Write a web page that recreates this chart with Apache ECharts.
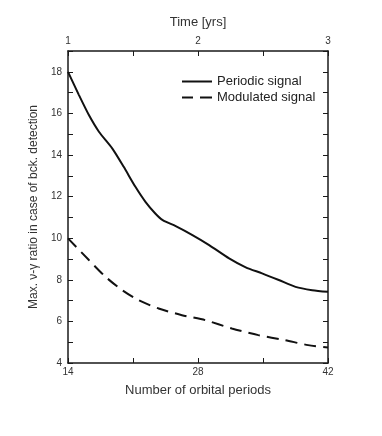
<!DOCTYPE html>
<html>
<head>
<meta charset="utf-8">
<script src="https://cdn.jsdelivr.net/npm/echarts@6/dist/echarts.min.js"></script>
<style>
  html, body { margin: 0; padding: 0; background: #fff; }
  #chart { width: 382px; height: 436px; }
</style>
</head>
<body>
<div id="chart"></div>
<script>
  // Number of orbital periods (bottom axis) vs ratio
  const periodicX = [14, 15.18, 16.25, 17.33, 18.76, 20.0, 21.26, 22.34, 23.4, 24.2, 25.6, 27.4, 29.2, 31.35, 33.14, 34.9, 36.7, 38.5, 40.3, 42];
  const periodicY = [18, 16.88, 15.92, 15.12, 14.32, 13.43, 12.47, 11.75, 11.19, 10.87, 10.58, 10.15, 9.67, 9.03, 8.6, 8.31, 7.99, 7.66, 7.5, 7.42];

  const modulatedX = [14, 16.25, 18.05, 19.84, 21.6, 23.76, 26.27, 28.77, 31.64, 34.5, 37.36, 39.86, 42];
  const modulatedY = [9.99, 8.95, 8.14, 7.5, 7.02, 6.62, 6.3, 6.06, 5.66, 5.34, 5.1, 4.86, 4.74];

  const bottomLabels = [14, 28, 42];
  const topLabels = [1, 2, 3];

  const chart = echarts.init(document.getElementById('chart'));

  const font = 'Liberation Sans';
  const axisColor = '#1a1a1a';

  const tickStyle = { show: true, inside: true, length: 5, lineStyle: { color: axisColor, width: 1 } };
  const lineStyle = { show: true, lineStyle: { color: axisColor, width: 1.5 } };

  const option = {
    animation: false,
    textStyle: { fontFamily: font },
    grid: { left: 68, right: 54, top: 51, bottom: 73 },
    legend: {
      orient: 'vertical',
      left: 177,
      top: 70,
      itemWidth: 30,
      itemHeight: 2,
      itemGap: 3,
      textStyle: { fontFamily: font, fontSize: 13, color: '#222' },
      data: [
        { name: 'Periodic signal', icon: 'path://M0,0L30,0L30,2L0,2Z' },
        { name: 'Modulated signal', icon: 'path://M0,0L11,0L11,2L0,2Z M18,0L30,0L30,2L18,2Z' }
      ]
    },
    xAxis: [
      {
        type: 'value',
        min: 14,
        max: 42,
        interval: 7,
        position: 'bottom',
        name: 'Number of orbital periods',
        nameLocation: 'middle',
        nameGap: 21,
        nameTextStyle: { fontFamily: font, fontSize: 13, color: '#333' },
        axisLine: lineStyle,
        axisTick: tickStyle,
        splitLine: { show: false },
        axisLabel: {
          fontSize: 10,
          color: '#333',
          margin: 4,
          formatter: (v) => (bottomLabels.includes(v) ? String(v) : '')
        }
      },
      {
        type: 'value',
        min: 1,
        max: 3,
        interval: 0.5,
        position: 'top',
        name: 'Time [yrs]',
        nameLocation: 'middle',
        nameGap: 22,
        nameTextStyle: { fontFamily: font, fontSize: 13, color: '#333' },
        axisLine: lineStyle,
        axisTick: tickStyle,
        splitLine: { show: false },
        axisLabel: {
          fontSize: 10,
          color: '#333',
          margin: 5,
          formatter: (v) => (topLabels.includes(v) ? String(v) : '')
        }
      }
    ],
    yAxis: [
      {
        type: 'value',
        min: 4,
        max: 19,
        interval: 1,
        position: 'left',
        name: 'Max. \u03bd-\u03b3 ratio in case of bck. detection',
        nameLocation: 'middle',
        nameGap: 21,
        nameTextStyle: { fontFamily: font, fontSize: 12, color: '#333' },
        axisLine: lineStyle,
        axisTick: tickStyle,
        splitLine: { show: false },
        axisLabel: {
          fontSize: 10,
          color: '#333',
          margin: 6,
          formatter: (v) => (v % 2 === 0 ? String(v) : '')
        }
      },
      {
        type: 'value',
        min: 4,
        max: 19,
        interval: 1,
        position: 'right',
        axisLine: lineStyle,
        axisTick: tickStyle,
        splitLine: { show: false },
        axisLabel: { show: false }
      }
    ],
    series: [
      {
        name: 'Periodic signal',
        type: 'line',
        xAxisIndex: 0,
        yAxisIndex: 0,
        smooth: 0.25,
        symbol: 'none',
        lineStyle: { color: '#111', width: 2 },
        itemStyle: { color: '#111' },
        data: periodicX.map((x, i) => [x, periodicY[i]])
      },
      {
        name: 'Modulated signal',
        type: 'line',
        xAxisIndex: 0,
        yAxisIndex: 0,
        smooth: 0.25,
        symbol: 'none',
        lineStyle: { color: '#111', width: 2, type: [12, 7] },
        itemStyle: { color: '#111' },
        data: modulatedX.map((x, i) => [x, modulatedY[i]])
      }
    ]
  };

  chart.setOption(option);
</script>
</body>
</html>
